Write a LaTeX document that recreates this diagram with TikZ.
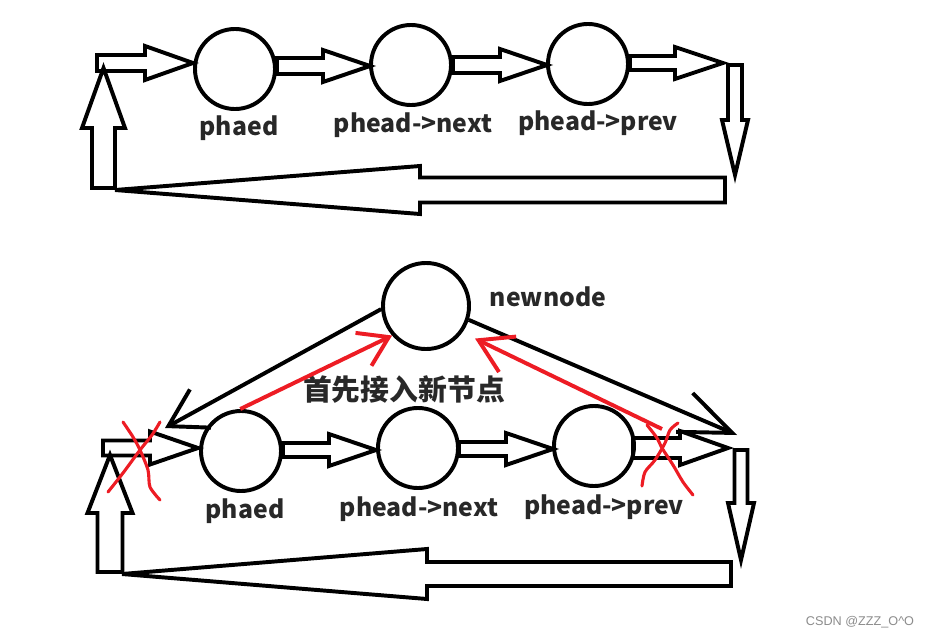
\documentclass[tikz,border=0pt]{standalone}
\usepackage{fontspec}
\setmainfont{Noto Sans CJK SC}
\setsansfont{Liberation Sans}
\usetikzlibrary{arrows.meta}

\definecolor{paintred}{RGB}{237,28,36}
\definecolor{labgray}{RGB}{40,40,40}

% hollow arrow, left/right: {x start}{x head}{x tip}{y}{half shaft}{half head}
\newcommand{\harrow}[6]{%
	\draw[blockline] (#1,#4-#5) -- (#2,#4-#5) -- (#2,#4-#6) -- (#3,#4) -- (#2,#4+#6) -- (#2,#4+#5) -- (#1,#4+#5) -- cycle;}
% hollow arrow, up/down: {y start}{y head}{y tip}{x}{half shaft}{half head}
\newcommand{\varrow}[6]{%
	\draw[blockline] (#4-#5,#1) -- (#4-#5,#2) -- (#4-#6,#2) -- (#4,#3) -- (#4+#6,#2) -- (#4+#5,#2) -- (#4+#5,#1) -- cycle;}

\tikzset{
	blockline/.style={line width=2.8pt},
	ring/.style={circle, draw, line width=2.8pt, minimum size=2cm, inner sep=0pt},
	lab/.style={anchor=base, text=labgray, font=\fontsize{17.6}{20}\selectfont\bfseries},
	blackline/.style={line width=2.8pt},
	redline/.style={line width=2.8pt, color=paintred},
	redcross/.style={line width=2.2pt, color=paintred, line cap=round}
}

\begin{document}
\begin{tikzpicture}[x=0.025cm, y=-0.025cm]
	\path[fill=white] (0,0) rectangle (925,638);
	% first list
	\node[ring] (top1) at (235,69) {};
	\node[ring] (top2) at (411,65) {};
	\node[ring] (top3) at (588,64) {};
	\node[lab] (toplab1) at (239,135) {phaed};
	\node[lab] (toplab2) at (413,132) {phead->next};
	\node[lab] (toplab3) at (598,130) {phead->prev};
	\harrow{97}{145}{193}{63}{8}{17}
	\harrow{277}{323}{370}{66}{8}{16}
	\harrow{453}{500}{547}{65}{8}{16}
	\harrow{630}{675}{723}{63}{7}{16}
	\varrow{65}{120}{175}{735}{7}{13}
	\harrow{725}{420}{115}{190}{12.5}{24}
	\varrow{188}{128}{68}{103.5}{11.5}{21.5}
	% second list, with the new node
	\node[ring] (bot1) at (241,451) {};
	\node[ring] (bot2) at (418,448) {};
	\node[ring] (bot3) at (594,446) {};
	\node[ring, minimum size=2.15cm] (newnode) at (426,306) {};
	\node[lab] (botlab1) at (245,518) {phaed};
	\node[lab] (botlab2) at (419,516) {phead->next};
	\node[lab] (botlab3) at (604,514) {phead->prev};
	\node[lab, anchor=base west] (newlab) at (485,306) {newnode};
	\node[text=labgray, font=\fontsize{20.5}{24}\selectfont\bfseries] (note) at (404,389) {首先接入新节点};
	\harrow{103}{150}{198}{448}{7.5}{16.5}
	\harrow{283}{329}{376}{450}{7}{16}
	\harrow{459}{506}{553}{449}{7}{16}
	\harrow{633}{680}{728}{448}{10}{17}
	\varrow{450}{503}{560}{741}{6.5}{13}
	\harrow{731}{427}{122}{574}{12}{25}
	\varrow{572}{513}{455}{110}{12.5}{22.5}
	\coordinate (leftin) at (165,428);
	\coordinate (rightin) at (737,435);
	\coordinate (redfrom) at (662,429);
	\draw[blackline, -{Straight Barb[length=26pt,width=31pt]}] (newnode.184) -- (leftin);
	\draw[blackline, -{Straight Barb[length=37pt,width=30pt]}] (newnode.-18) -- (rightin);
	\draw[redline, -{Straight Barb[length=20pt,width=26pt]}] (bot1.91) -- (newnode.221);
	\draw[redline, shorten >=10, -{Straight Barb[length=23pt,width=28pt]}] (redfrom) -- (newnode.-36);
	% crossed out links
	\draw[redcross] plot[smooth] coordinates {(123,422) (133,437) (140,450) (148,470) (150,487) (160,500)};
	\draw[redcross] plot[smooth] coordinates {(160,422) (152,435) (140,450) (123,473) (108,492)};
	\draw[redcross] plot[smooth] coordinates {(647,425) (657,438) (662,448) (673,465) (683,482) (693,495)};
	\draw[redcross] plot[smooth] coordinates {(678,423) (670,430) (665,443) (655,460) (645,472) (642,486)};
	\node[text=black!45, font=\sffamily\fontsize{9}{10}\selectfont] (mark) at (860,622) {CSDN @ZZZ\_O\textasciicircum O};
\end{tikzpicture}
\end{document}
